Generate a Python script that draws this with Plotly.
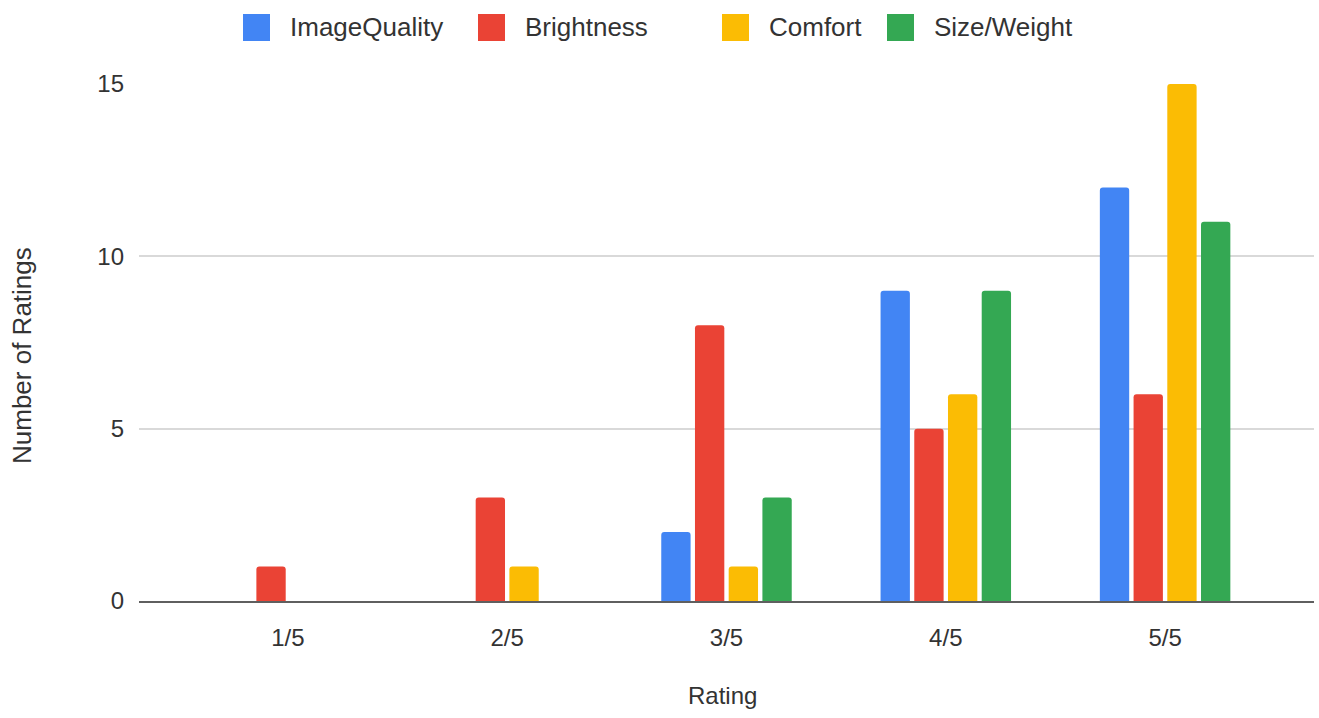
import plotly.graph_objects as go

# Rating categories and number of ratings per aspect
ratings = ["1/5", "2/5", "3/5", "4/5", "5/5"]
image_quality = [0, 0, 2, 9, 12]
brightness = [1, 3, 8, 5, 6]
comfort = [0, 1, 1, 6, 15]
size_weight = [0, 0, 3, 9, 11]

series_names = ["ImageQuality", "Brightness", "Comfort", "Size/Weight"]
series_values = [image_quality, brightness, comfort, size_weight]
series_colors = ["#4285F4", "#EA4335", "#FBBC04", "#34A853"]
y_ticks = [0, 5, 10, 15]

W, H = 1319, 718
ML, MR, MT, MB = 139, 5, 84, 117
PW, PH = W - ML - MR, H - MT - MB
FONT = "Arial, Liberation Sans, sans-serif"
TEXT = "#333333"


def px_x(p):
    return (p - ML) / PW


def px_y(p):
    return (H - MB - p) / PH


fig = go.Figure()
for name, vals, col in zip(series_names, series_values, series_colors):
    fig.add_trace(go.Bar(x=ratings, y=vals, name=name, marker_color=col,
                         marker_line_width=0, showlegend=False))

# Legend row across the top, drawn as swatches with labels
legend_left = [243, 478, 722, 887]
shapes, annotations = [], []
for name, col, left in zip(series_names, series_colors, legend_left):
    shapes.append(dict(type="rect", xref="paper", yref="paper",
                       x0=px_x(left), x1=px_x(left + 27),
                       y0=px_y(41), y1=px_y(14),
                       fillcolor=col, line_width=0))
    annotations.append(dict(text=name, xref="paper", yref="paper",
                            x=px_x(left + 45), y=px_y(27),
                            xanchor="left", yanchor="middle", showarrow=False,
                            font=dict(family=FONT, size=26, color=TEXT)))

annotations.append(dict(text="Number of Ratings", xref="paper", yref="paper",
                        x=px_x(22), y=px_y(356), textangle=-90,
                        xanchor="center", yanchor="middle", showarrow=False,
                        font=dict(family=FONT, size=26, color=TEXT)))
annotations.append(dict(text="Rating", xref="paper", yref="paper",
                        x=px_x(722), y=px_y(695),
                        xanchor="center", yanchor="middle", showarrow=False,
                        font=dict(family=FONT, size=24, color=TEXT)))

fig.update_layout(
    width=W, height=H,
    margin=dict(l=ML, r=MR, t=MT, b=MB, pad=0),
    paper_bgcolor="white", plot_bgcolor="white",
    barmode="group", bargap=0.385, bargroupgap=0.13, barcornerradius=3,
    shapes=shapes, annotations=annotations,
    font=dict(family=FONT, size=24, color=TEXT),
)
fig.update_xaxes(type="category", range=[-0.679, 4.679], showgrid=False,
                 showline=True, linecolor="#5f5f5f", linewidth=2,
                 ticks="", ticklabelstandoff=14,
                 tickfont=dict(family=FONT, size=24, color=TEXT))
fig.update_yaxes(range=[0, 15], tickvals=y_ticks, showgrid=True,
                 gridcolor="#d9d9d9", gridwidth=1.5, zeroline=False,
                 ticks="", ticklabelstandoff=14,
                 tickfont=dict(family=FONT, size=24, color=TEXT))

fig.write_html("out.html")
